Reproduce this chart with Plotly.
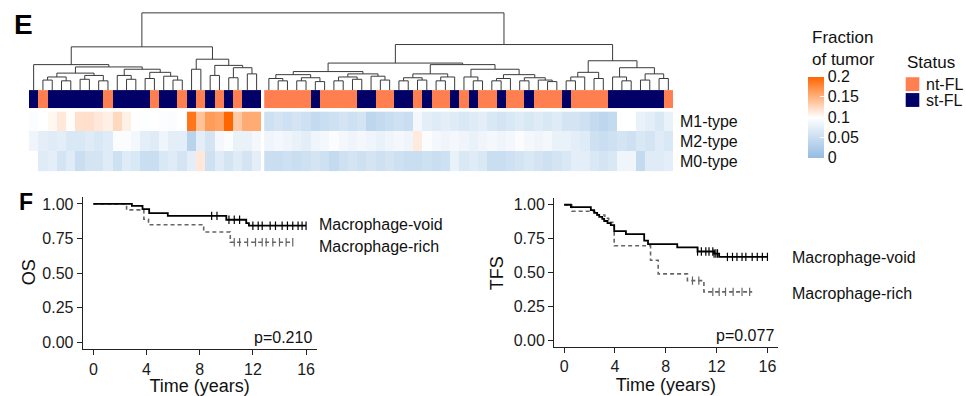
import plotly.graph_objects as go
import numpy as np

W, H = 966, 396
def PX(x): return x / W
def PY(y): return 1 - y / H

FONT = "Liberation Sans, Arial, sans-serif"

# ---------------- heatmap data ----------------
rows = ["M1-type", "M2-type", "M0-type"]
status = list("NONNNNNNONNNNONNONONONONN" +
              "OOOOONOOOONNOONNONOONONOONOONOOONOOOONNNNNNO")
status_names = {"O": "nt-FL", "N": "st-FL"}

m1 = [0.095, 0.1, 0.105, 0.115, 0.102, 0.12, 0.12, 0.115, 0.11, 0.125, 0.11, 0.1, 0.098,
      0.1, 0.097, 0.095, 0.1, 0.19, 0.14, 0.165, 0.16, 0.2, 0.135, 0.155, 0.155,
      0.055, 0.06, 0.055, 0.06, 0.055, 0.045, 0.05, 0.055, 0.06, 0.055, 0.06, 0.04, 0.045,
      0.05, 0.055, 0.05, 0.09, 0.075, 0.07, 0.075, 0.07, 0.065, 0.07, 0.075, 0.065, 0.06,
      0.065, 0.07, 0.065, 0.07, 0.065, 0.07, 0.06, 0.06, 0.055, 0.045, 0.04, 0.045, 0.1,
      0.1, 0.08, 0.075, 0.065, 0.08]
m2 = [0.085, 0.075, 0.07, 0.075, 0.065, 0.065, 0.07, 0.065, 0.07, 0.095, 0.095, 0.09, 0.075,
      0.07, 0.085, 0.075, 0.075, 0.035, 0.075, 0.06, 0.09, 0.095, 0.08, 0.08, 0.09,
      0.085, 0.09, 0.085, 0.08, 0.075, 0.085, 0.09, 0.095, 0.09, 0.085, 0.09, 0.085, 0.08,
      0.085, 0.09, 0.085, 0.113, 0.095, 0.09, 0.085, 0.09, 0.085, 0.08, 0.085, 0.09, 0.085,
      0.09, 0.095, 0.09, 0.085, 0.09, 0.08, 0.08, 0.075, 0.07, 0.055, 0.05, 0.055, 0.06,
      0.055, 0.065, 0.06, 0.07, 0.065]
m0 = [0.1, 0.07, 0.075, 0.06, 0.07, 0.05, 0.06, 0.06, 0.07, 0.055, 0.07, 0.065, 0.05,
      0.05, 0.065, 0.07, 0.06, 0.075, 0.115, 0.055, 0.07, 0.06, 0.07, 0.06, 0.075,
      0.05, 0.05, 0.055, 0.05, 0.055, 0.06, 0.055, 0.045, 0.055, 0.06, 0.055, 0.06, 0.055,
      0.06, 0.055, 0.05, 0.05, 0.055, 0.05, 0.055, 0.08, 0.065, 0.07, 0.065, 0.05, 0.05,
      0.055, 0.06, 0.065, 0.06, 0.055, 0.06, 0.065, 0.075, 0.075, 0.065, 0.06, 0.065, 0.085,
      0.085, 0.045, 0.07, 0.07, 0.075]

n_left = 25
gap = 0.32
col_x = [i if i < n_left else i + gap for i in range(len(status))]

# dendrogram: (height, left, right); leaves = column index
L = (0.56,
     (0.33, 0,
      (0.30,
       (0.22, (0.17, (0.13, 1, 2), (0.12, 3, 4)), (0.19, (0.14, 5, 6), (0.12, 7, 8))),
       (0.27, (0.19, 9, (0.14, 10, 11)), (0.23, (0.15, 12, 13), (0.18, 14, (0.13, 15, 16)))))),
     (0.40, (0.27, 17, 18),
      (0.32, (0.19, 19, 20), (0.29, (0.16, 21, 22), (0.21, 23, 24)))))
R = (0.59,
     (0.35,
      (0.24,
       (0.20, (0.15, 25, (0.12, 26, 27)), (0.16, (0.12, 28, 29), (0.11, 30, 31))),
       (0.21, (0.17, (0.12, 32, 33), (0.14, 34, 35)), (0.18, 36, (0.13, 37, 38)))),
      (0.33,
       (0.21, (0.16, (0.12, 39, 40), (0.13, 41, 42)), (0.17, (0.12, 43, 44), 45)),
       (0.27, (0.17, 46, (0.12, 47, 48)),
        (0.20, (0.15, (0.12, 49, 50), 51),
         (0.16, (0.12, 52, 53), (0.13, 54, (0.11, 55, 56))))))),
     (0.38,
      (0.23, (0.17, (0.12, 57, 58), 59), (0.15, 60, 61)),
      (0.29, (0.17, 62, (0.12, 63, 64)), (0.21, (0.13, 65, 66), (0.15, 67, 68)))))
tree = (1.0, L, R)

# ---------------- survival data ----------------
os_void_t = [0, 2.9, 3.7, 4.2, 5.6, 10.0, 11.5, 11.7, 16.0]
os_void_s = [1.0, 0.986, 0.962, 0.933, 0.914, 0.886, 0.862, 0.843, 0.843]
os_void_cens = [8.9, 9.3, 10.2, 10.6, 11.0, 12.0, 12.4, 12.7, 13.3, 13.7, 14.2, 14.6, 15.0, 15.4, 15.7, 16.0]
os_rich_t = [0, 2.5, 3.8, 4.15, 8.3, 10.3, 15.0]
os_rich_s = [1.0, 0.957, 0.89, 0.85, 0.798, 0.724, 0.724]
os_rich_cens = [10.6, 11.0, 11.6, 12.2, 12.7, 13.0, 13.5, 14.0, 14.5, 15.0]

tfs_void_t = [0, 0.53, 2.1, 2.36, 2.6, 2.76, 3.0, 3.15, 3.41, 3.67, 3.94, 4.86, 6.3, 6.6, 8.9, 10.5, 11.8, 12.2, 16.0]
tfs_void_s = [1.0, 0.983, 0.96, 0.94, 0.925, 0.91, 0.896, 0.88, 0.865, 0.85, 0.806, 0.783, 0.735, 0.71, 0.685, 0.655, 0.64, 0.615, 0.615]
tfs_void_cens = [10.5, 10.8, 11.15, 11.4, 11.7, 11.8, 11.94, 12.07, 12.85, 13.25, 13.6, 14.0, 14.3, 14.8, 15.2, 15.6, 16.0]
tfs_rich_t = [0, 0.6, 2.4, 3.2, 3.5, 3.94, 6.8, 7.4, 9.7, 11.0, 14.8]
tfs_rich_s = [1.0, 0.952, 0.925, 0.9, 0.87, 0.697, 0.59, 0.49, 0.44, 0.357, 0.357]
tfs_rich_cens = [10.1, 10.6, 11.7, 12.2, 12.7, 13.3, 14.0, 14.6]

time_ticks = [0, 4, 8, 12, 16]
surv_ticks = [0, 0.25, 0.5, 0.75, 1.0]
frac_ticks = [0, 0.05, 0.1, 0.15, 0.2]

ORANGE = "#FF7F50"
NAVY = "#000066"
colorscale = [[0, "#93bce2"], [0.5, "#ffffff"], [1, "#ff6600"]]

fig = go.Figure()

# dendrogram
dx, dy = [], []
def walk(node):
    if isinstance(node, int):
        return col_x[node], 0.0
    h, a, b = node
    xa, ha = walk(a)
    xb, hb = walk(b)
    dx.extend([xa, xa, xb, xb, None])
    dy.extend([ha, h, h, hb, None])
    return (xa + xb) / 2, h
walk(tree)
fig.add_trace(go.Scatter(x=dx, y=dy, mode="lines", line=dict(color="#3a3a3a", width=1),
                         xaxis="x", yaxis="y", hoverinfo="skip", showlegend=False))

# status bar and heatmap, left & right clusters
st_code = [0 if s == "O" else 1 for s in status]
for sl in (slice(0, n_left), slice(n_left, None)):
    xs = col_x[sl]
    fig.add_trace(go.Heatmap(x=xs, y=["Status"], z=[st_code[sl]], zmin=0, zmax=1,
                             colorscale=[[0, ORANGE], [0.5, ORANGE], [0.5, NAVY], [1, NAVY]],
                             showscale=False, xaxis="x", yaxis="y2", hoverinfo="skip"))
    fig.add_trace(go.Heatmap(x=xs, y=rows, z=[m1[sl], m2[sl], m0[sl]], zmin=0, zmax=0.2,
                             colorscale=colorscale, showscale=(sl.start == 0),
                             xaxis="x", yaxis="y3", hoverinfo="skip",
                             colorbar=dict(x=PX(808), xanchor="left", y=PY(116.3), yanchor="middle",
                                           thickness=16, thicknessmode="pixels",
                                           len=81, lenmode="pixels", outlinewidth=0,
                                           xpad=0, ypad=0,
                                           tickvals=frac_ticks,
                                           ticktext=[f"{v:g}" for v in frac_ticks],
                                           ticks="inside", ticklen=4, tickcolor="white",
                                           tickfont=dict(size=16, color="#111", family=FONT))))

# survival curves
def step_val(ts, ss, t):
    idx = np.searchsorted(np.array(ts), np.array(t), side="right") - 1
    return np.array(ss)[idx]

for (xa, ya, ts_v, ss_v, cv, ts_r, ss_r, cr) in [
        ("x2", "y4", os_void_t, os_void_s, os_void_cens, os_rich_t, os_rich_s, os_rich_cens),
        ("x3", "y5", tfs_void_t, tfs_void_s, tfs_void_cens, tfs_rich_t, tfs_rich_s, tfs_rich_cens)]:
    fig.add_trace(go.Scatter(x=ts_r, y=ss_r, mode="lines", line=dict(color="#666", width=1.6, dash="4px,3px", shape="hv"),
                             xaxis=xa, yaxis=ya, showlegend=False, hoverinfo="skip"))
    fig.add_trace(go.Scatter(x=cr, y=step_val(ts_r, ss_r, cr), mode="markers",
                             marker=dict(symbol="line-ns", size=6, line=dict(color="#666", width=1.2)),
                             xaxis=xa, yaxis=ya, showlegend=False, hoverinfo="skip"))
    fig.add_trace(go.Scatter(x=ts_v, y=ss_v, mode="lines", line=dict(color="#000", width=1.8, shape="hv"),
                             xaxis=xa, yaxis=ya, showlegend=False, hoverinfo="skip"))
    fig.add_trace(go.Scatter(x=cv, y=step_val(ts_v, ss_v, cv), mode="markers",
                             marker=dict(symbol="line-ns", size=6, line=dict(color="#000", width=1.2)),
                             xaxis=xa, yaxis=ya, showlegend=False, hoverinfo="skip"))

hidden = dict(visible=False, showgrid=False, zeroline=False)
xr = [-0.5, col_x[-1] + 0.5]

def km_x(dom, anchor):
    return dict(domain=dom, anchor=anchor, range=[-0.8, 16.8], tickvals=time_ticks,
                ticks="outside", ticklen=5, tickcolor="#222", showline=True, linecolor="#222",
                linewidth=1, showgrid=False, zeroline=False,
                tickfont=dict(size=16, color="#1a1a1a"),
                title=dict(text="Time (years)", font=dict(size=18, color="#111"), standoff=0))
def km_y(dom, anchor):
    return dict(domain=dom, anchor=anchor, range=[-0.05, 1.05], tickvals=surv_ticks,
                tickformat=".2f", ticks="outside", ticklen=5, tickcolor="#222", showline=True,
                linecolor="#222", linewidth=1, showgrid=False, zeroline=False,
                tickfont=dict(size=16, color="#1a1a1a"))

fig.update_layout(
    width=W, height=H, margin=dict(l=0, r=0, t=0, b=0),
    paper_bgcolor="white", plot_bgcolor="white",
    font=dict(family=FONT, color="#111"),
    xaxis=dict(domain=[PX(29), PX(29 + 9.29 * (xr[1] - xr[0]))], range=xr, anchor="y3", **hidden),
    yaxis=dict(domain=[PY(89), PY(9.5)], range=[0, 1.019], anchor="x", **hidden),
    yaxis2=dict(domain=[PY(107.3), PY(89)], anchor="x", **hidden),
    yaxis3=dict(domain=[PY(171), PY(110.5)], anchor="x", side="right", autorange="reversed",
                showgrid=False, zeroline=False, showline=False, ticks="",
                ticklabelstandoff=6, tickfont=dict(size=16, color="#111")),
    xaxis2=km_x([PX(82.7), PX(316.7)], "y4"),
    yaxis4=km_y([PY(351), PY(197)], "x2"),
    xaxis3=km_x([PX(554), PX(777.6)], "y5"),
    yaxis5=km_y([PY(348.5), PY(198)], "x3"),
)

ann = [
    dict(text="<b>E</b>", x=PX(23.8), y=PY(22.7), font=dict(size=28, color="#000"), xanchor="center"),
    dict(text="<b>F</b>", x=PX(25.7), y=PY(201.7), font=dict(size=23, color="#000"), xanchor="center"),
    dict(text="OS", x=PX(29), y=PY(273), textangle=-90, font=dict(size=18), xanchor="center"),
    dict(text="TFS", x=PX(497), y=PY(274), textangle=-90, font=dict(size=18), xanchor="center"),
    dict(text="Fraction<br>of tumor", x=PX(810), y=PY(47), align="left", xanchor="left", font=dict(size=17)),
    dict(text="Status", x=PX(905), y=PY(61), xanchor="left", font=dict(size=17)),
    dict(text=status_names["O"], x=PX(924), y=PY(83), xanchor="left", font=dict(size=16)),
    dict(text=status_names["N"], x=PX(924), y=PY(99.5), xanchor="left", font=dict(size=16)),
    dict(text="Macrophage-void", x=PX(317), y=PY(225), xanchor="left", font=dict(size=16)),
    dict(text="Macrophage-rich", x=PX(317), y=PY(246.7), xanchor="left", font=dict(size=16)),
    dict(text="Macrophage-void", x=PX(790), y=PY(258.3), xanchor="left", font=dict(size=16)),
    dict(text="Macrophage-rich", x=PX(790), y=PY(294.3), xanchor="left", font=dict(size=16)),
    dict(text="p=0.210", x=PX(313.5), y=PY(339), xanchor="right", font=dict(size=16)),
    dict(text="p=0.077", x=PX(775.5), y=PY(336.7), xanchor="right", font=dict(size=16)),
]
for a in ann:
    a.update(xref="paper", yref="paper", showarrow=False, yanchor="middle")
fig.update_layout(annotations=ann)

fig.update_layout(shapes=[
    dict(type="rect", xref="paper", yref="paper", x0=PX(905.7), x1=PX(919.3), y0=PY(90), y1=PY(76),
         fillcolor=ORANGE, line=dict(width=0)),
    dict(type="rect", xref="paper", yref="paper", x0=PX(905.7), x1=PX(919.3), y0=PY(106), y1=PY(92),
         fillcolor=NAVY, line=dict(width=0)),
])

fig.write_html("out.html", config={"displayModeBar": False},
               post_script="document.body.style.margin='0';document.body.style.overflow='hidden';")
